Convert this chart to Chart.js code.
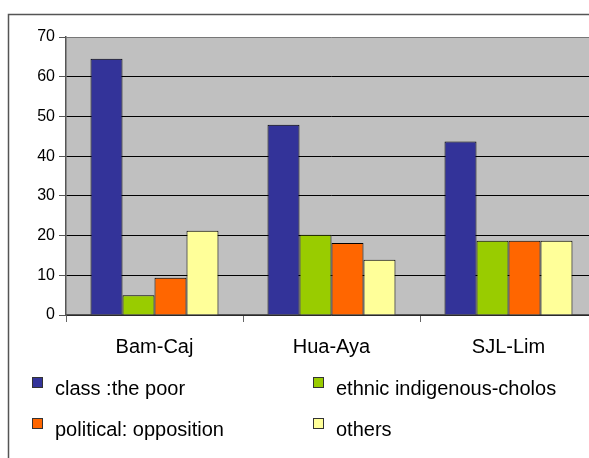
<!DOCTYPE html>
<html>
<head>
<meta charset="utf-8">
<script src="https://cdn.jsdelivr.net/npm/chart.js@4/dist/chart.umd.min.js"></script>
<style>
body{margin:0;background:#fff;overflow:hidden;}
#wrap{position:relative;width:589px;height:458px;overflow:hidden;}
#chart{position:absolute;left:0;top:0;}
</style>
</head>
<body>
<div id="wrap"><canvas id="chart" width="610" height="458"></canvas></div>
<script>
const categories = ["Bam-Caj", "Hua-Aya", "SJL-Lim"];
const seriesNames = ["class :the poor", "ethnic indigenous-cholos", "political: opposition", "others"];
const classPoor = [64.5, 47.9, 43.7];
const ethnic = [5.0, 20.2, 18.7];
const political = [9.4, 18.1, 18.7];
const others = [21.2, 13.9, 18.7];
const yTicks = [0, 10, 20, 30, 40, 50, 60, 70];

const colors = ["#333399", "#99cc00", "#ff6600", "#ffff99"];
const FONT = "'Liberation Sans', Arial, sans-serif";

// outer frame + grey plot background
const bgPlugin = {
  id: "bg",
  beforeDraw(chart){
    let ctx = chart.ctx, a = chart.chartArea;
    ctx.save();
    ctx.strokeStyle = "#555";
    ctx.lineWidth = 1.5;
    ctx.beginPath();
    ctx.moveTo(8.5, 460);
    ctx.lineTo(8.5, 14.5);
    ctx.lineTo(chart.width, 14.5);
    ctx.stroke();
    ctx.fillStyle = "#c0c0c0";
    ctx.fillRect(a.left, a.top, a.right - a.left, a.bottom - a.top);
    ctx.restore();
  }
};

// legend in two columns like the original
const legendPlugin = {
  id: "legend2",
  afterDraw(chart){
    let ctx = chart.ctx;
    let colX = [32, 313], rowY = [389, 430];
    ctx.save();
    ctx.font = "20px " + FONT;
    ctx.textBaseline = "middle";
    chart.data.datasets.forEach((ds, i)=>{
      let x = colX[i % 2], y = rowY[Math.floor(i / 2)];
      ctx.fillStyle = ds.backgroundColor;
      ctx.fillRect(x, y - 12, 11, 11);
      ctx.strokeStyle = "#333";
      ctx.lineWidth = 1;
      ctx.strokeRect(x + 0.5, y - 11.5, 10, 10);
      ctx.fillStyle = "#000";
      ctx.fillText(ds.label, x + 23, y);
    });
    ctx.restore();
  }
};

const seriesData = [classPoor, ethnic, political, others];

new Chart(document.getElementById("chart"), {
  type: "bar",
  data: {
    labels: categories,
    datasets: seriesData.map((d, i)=>({
      label: seriesNames[i],
      data: d,
      backgroundColor: colors[i],
      borderColor: "#000",
      borderWidth: 1,
      categoryPercentage: 0.723,
      barPercentage: 1.0
    }))
  },
  options: {
    responsive: false,
    animation: false,
    layout: { padding: { top: 37, left: 0, right: 13, bottom: 0 } },
    plugins: { legend: { display: false }, tooltip: { enabled: false } },
    scales: {
      x: {
        grid: { drawOnChartArea: false, drawTicks: true, tickLength: 7, color: "#666" },
        border: { color: "#555", width: 1.5 },
        ticks: { color: "#000", font: { size: 20, family: FONT }, padding: 13 },
        afterFit(scale){ scale.height = 143; }
      },
      y: {
        min: 0,
        max: 70,
        afterBuildTicks(scale){ scale.ticks = yTicks.map(v=>({value: v})); },
        grid: {
          color: ctx => ctx.tick && ctx.tick.value === 70 ? "#777" : "#000",
          lineWidth: 1,
          tickLength: 7,
          tickColor: "#555"
        },
        border: { color: "#555", width: 1.5 },
        ticks: { color: "#000", font: { size: 16, family: FONT }, padding: 4 },
        afterFit(scale){ scale.width = 66; }
      }
    }
  },
  plugins: [bgPlugin, legendPlugin]
});
</script>
</body>
</html>
